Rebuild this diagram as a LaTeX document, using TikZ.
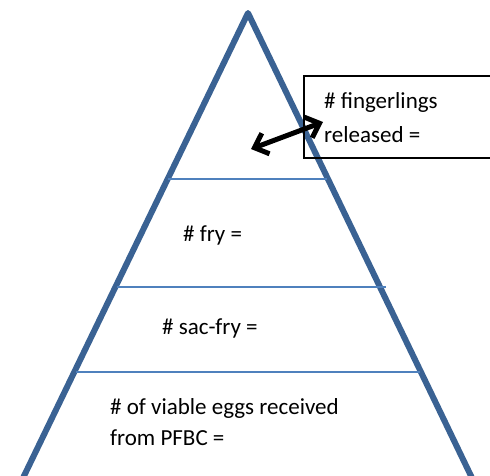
\documentclass[tikz,border=0pt]{standalone}
\usepackage{fontspec}
\setmainfont{Carlito}
\usetikzlibrary{arrows.meta}
\definecolor{triblue}{HTML}{3A6293}
\definecolor{lineblue}{HTML}{4F81BD}
\begin{document}
\begin{tikzpicture}[x=1pt,y=-1pt,
  side/.style={draw=triblue,line width=6pt,line cap=round,line join=round},
  level/.style={draw=lineblue,line width=2.8pt},
  lbl/.style={anchor=west,inner sep=0pt,font=\fontsize{23}{30}\selectfont,text=black,align=left},
  boxstyle/.style={draw=black,line width=2.6pt}]
\useasboundingbox[fill=white] (0,0) rectangle (490,475);
% pyramid sides
\coordinate (apex) at (248,13);
\coordinate (bl) at (23,478);
\coordinate (br) at (472,478);
\draw[side] (bl) -- (apex) -- (br);
% levels
\draw[level] (168,179) -- (327,179);
\draw[level] (117,287) -- (386,287);
\draw[level] (76,372) -- (420,372);
% box
\draw[boxstyle] (496,76) -- (304,76) -- (304,158) -- (496,158);
\node[lbl] (fing) at (324,102) {\# fingerlings};
\node[lbl] (rel) at (324,135) {released =};
\node[lbl] (fry) at (183,235) {\# fry =};
\node[lbl] (sac) at (162,328) {\# sac-fry =};
\node[lbl] (egg1) at (110,408) {\# of viable eggs received};
\node[lbl] (egg2) at (110,438) {from PFBC =};
% arrow
\coordinate (aL) at (251,149);
\coordinate (aR) at (323,122);
\draw[line width=5pt,{Straight Barb[length=12pt,width=22pt]}-{Straight Barb[length=12pt,width=22pt]}] (aL) -- (aR);
\end{tikzpicture}
\end{document}
